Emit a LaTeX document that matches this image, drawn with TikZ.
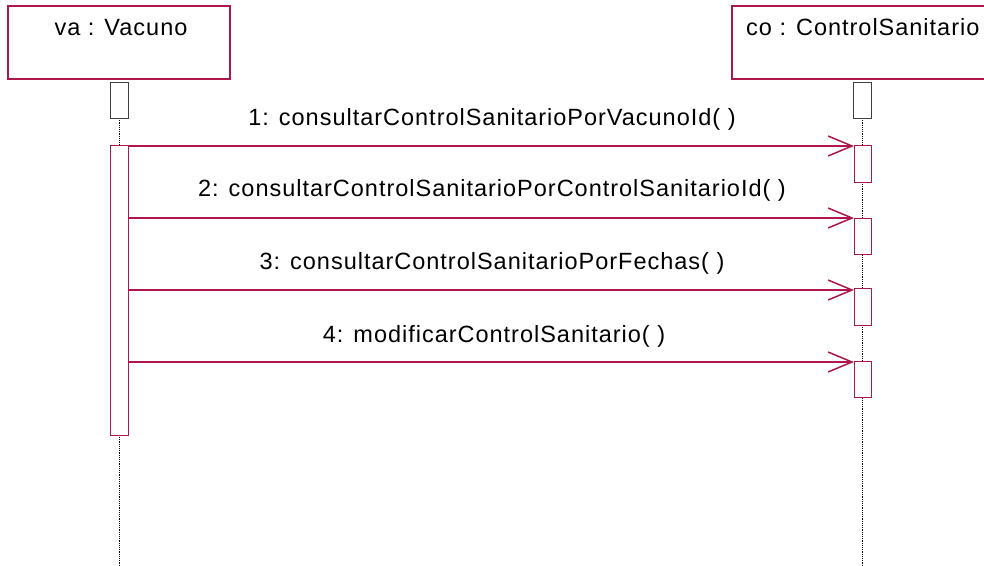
\documentclass[tikz,border=0pt]{standalone}
\usepackage{fontspec}
\setmainfont[LetterSpace=4.2]{Liberation Sans}
\usetikzlibrary{arrows.meta}
\definecolor{umlred}{RGB}{172,24,74}
\tikzset{
  objbox/.style={draw=umlred, line width=1.1pt, fill=white},
  headbar/.style={draw=black!75, line width=0.8pt, fill=white},
  actbar/.style={draw=umlred, line width=1.1pt, fill=white},
  lifeline/.style={draw=black, line width=1pt, dash pattern=on 1.2pt off 1pt},
  msg/.style={draw=umlred, line width=1.1pt, -{Straight Barb[length=24pt,width=20pt,line width=1.5pt]}},
  lbl/.style={font=\fontsize{23.5}{28}\selectfont, anchor=base, inner sep=0pt}
}
\begin{document}
\begin{tikzpicture}[x=1pt,y=-1pt]
\clip (0,0) rectangle (984,565);
\fill[white] (0,0) rectangle (984,565);
% object boxes
\path[objbox] (8,6) rectangle (230,79);
\node[lbl] (va) at (121,35) {va : Vacuno};
\path[objbox] (732,6) rectangle (1000,79);
\node[lbl, anchor=base west] (co) at (746,35) {co : ControlSanitario};
% lifelines
\coordinate (vaTop) at (119,118);
\coordinate (vaBot) at (119,565);
\coordinate (coTop) at (862.5,118);
\coordinate (coBot) at (862.5,565);
\draw[lifeline] (vaTop) -- (vaBot);
\draw[lifeline] (coTop) -- (coBot);
% header bars
\path[headbar] (110,82) rectangle (128,118);
\path[headbar] (853.5,82) rectangle (871.5,118);
% activation bars
\node[actbar, minimum width=18pt, minimum height=290pt, inner sep=0pt, anchor=north west] (vaAct) at (110,145) {};
\node[actbar, minimum width=17pt, minimum height=37pt, inner sep=0pt, anchor=north west] (coA1) at (854,145) {};
\node[actbar, minimum width=17pt, minimum height=36pt, inner sep=0pt, anchor=north west] (coA2) at (854,218) {};
\node[actbar, minimum width=17pt, minimum height=37pt, inner sep=0pt, anchor=north west] (coA3) at (854,288) {};
\node[actbar, minimum width=17pt, minimum height=36pt, inner sep=0pt, anchor=north west] (coA4) at (854,361) {};
% messages
\coordinate (s1) at (128,146);
\coordinate (s2) at (128,218);
\coordinate (s3) at (128,290);
\coordinate (s4) at (128,362);
\draw[msg] (s1) -- (s1 -| coA1.west);
\draw[msg] (s2) -- (s2 -| coA2.west);
\draw[msg] (s3) -- (s3 -| coA3.west);
\draw[msg] (s4) -- (s4 -| coA4.west);
\node[lbl] (m1) at (492,125) {1: consultarControlSanitarioPorVacunoId( )};
\node[lbl] (m2) at (492,196) {2: consultarControlSanitarioPorControlSanitarioId( )};
\node[lbl] (m3) at (492,269) {3: consultarControlSanitarioPorFechas( )};
\node[lbl] (m4) at (494,342) {4: modificarControlSanitario( )};
\end{tikzpicture}
\end{document}
